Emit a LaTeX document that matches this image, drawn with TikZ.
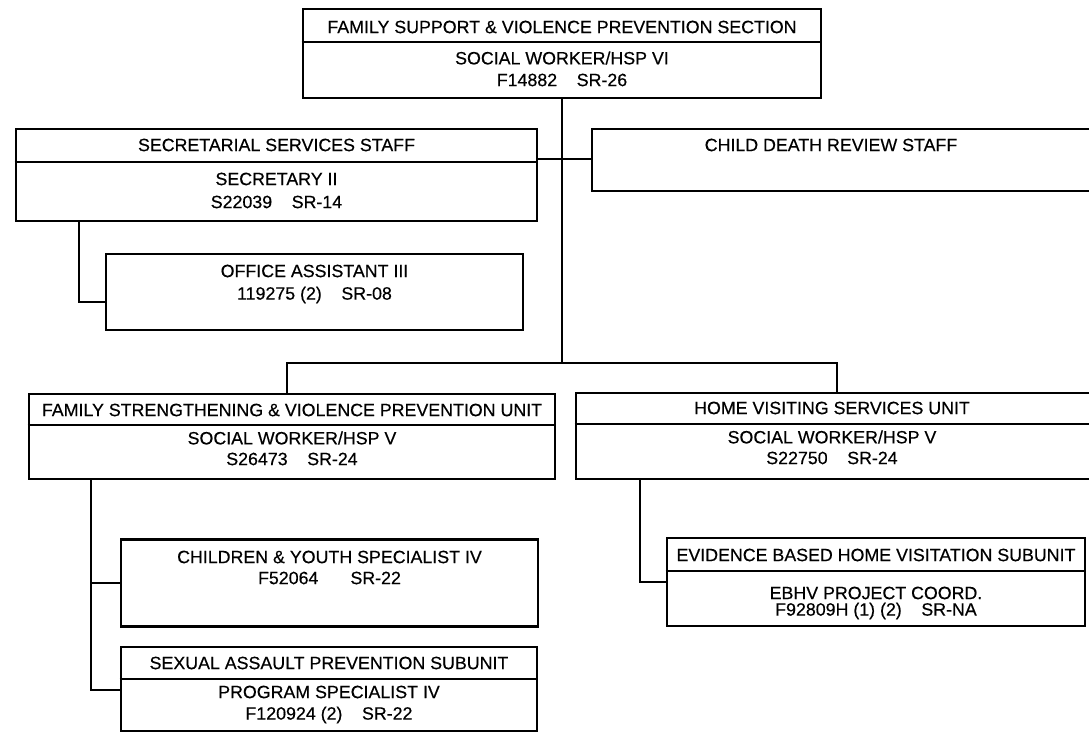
\documentclass[tikz,border=0pt]{standalone}
\usepackage{fontspec}
\setmainfont[FakeBold=0.4]{Liberation Sans}
\begin{document}
\begin{tikzpicture}[x=1pt,y=-1pt,
  box/.style={draw, line width=2.8pt, rectangle, inner sep=0pt},
  divider/.style={line width=1.7pt},
  conn/.style={line width=2.8pt},
  lbl/.style={inner sep=0pt, font=\fontsize{17.8}{21}\selectfont}]
\useasboundingbox (0,0) rectangle (1089,733);
\clip (0,0) rectangle (1089,733);
\fill[white] (0,0) rectangle (1089,733);
% boxes
\node[box, minimum width=518pt, minimum height=89pt] (top) at (562,53.5) {};
\node[box, minimum width=521pt, minimum height=92pt] (sec) at (276.5,175) {};
\node[box, minimum width=508pt, minimum height=62pt] (cdr) at (846,160) {};
\node[box, minimum width=417pt, minimum height=76pt] (office) at (314.5,292) {};
\node[box, minimum width=526pt, minimum height=85pt] (fsvp) at (292,436.5) {};
\node[box, minimum width=526pt, minimum height=86pt] (hvs) at (839,436) {};
\node[box, minimum width=417pt, minimum height=87pt] (child) at (329.5,583) {};
\node[box, minimum width=416pt, minimum height=84pt] (sexual) at (329,689) {};
\node[box, minimum width=418pt, minimum height=88pt] (ebhv) at (876,582) {};
% dividers
\draw[divider] (top.west |- 0,42) -- (top.east |- 0,42);
\draw[divider] (sec.west |- 0,162) -- (sec.east |- 0,162);
\draw[divider] (fsvp.west |- 0,425) -- (fsvp.east |- 0,425);
\draw[divider] (hvs.west |- 0,424) -- (hvs.east |- 0,424);
\draw[divider] (sexual.west |- 0,679) -- (sexual.east |- 0,679);
\draw[divider] (ebhv.west |- 0,571) -- (ebhv.east |- 0,571);
% texts
\node[lbl] (t1) at (562,27) {FAMILY SUPPORT \& VIOLENCE PREVENTION SECTION};
\node[lbl] (t2) at (562,58) {SOCIAL WORKER/HSP VI};
\node[lbl] (t3) at (562,80) {F14882\hspace{1.1em}SR-26};
\node[lbl] (s1) at (276.5,145) {SECRETARIAL SERVICES STAFF};
\node[lbl] (s2) at (276.5,179) {SECRETARY II};
\node[lbl] (s3) at (276.5,202) {S22039\hspace{1.1em}SR-14};
\node[lbl] (c1) at (831,145) {CHILD DEATH REVIEW STAFF};
\node[lbl] (o1) at (314.5,271) {OFFICE ASSISTANT III};
\node[lbl] (o2) at (314.5,295) {119275 (2)\hspace{1.1em}SR-08};
\node[lbl] (f1) at (292,410) {FAMILY STRENGTHENING \& VIOLENCE PREVENTION UNIT};
\node[lbl] (f2) at (292,438) {SOCIAL WORKER/HSP V};
\node[lbl] (f3) at (292,459) {S26473\hspace{1.1em}SR-24};
\node[lbl] (h1) at (832,408) {HOME VISITING SERVICES UNIT};
\node[lbl] (h2) at (832,437) {SOCIAL WORKER/HSP V};
\node[lbl] (h3) at (832,458) {S22750\hspace{1.1em}SR-24};
\node[lbl] (ch1) at (329.5,557) {CHILDREN \& YOUTH SPECIALIST IV};
\node[lbl] (ch2) at (329.5,578) {F52064\hspace{1.8em}SR-22};
\node[lbl] (sx1) at (329,663) {SEXUAL ASSAULT PREVENTION SUBUNIT};
\node[lbl] (sx2) at (329,692) {PROGRAM SPECIALIST IV};
\node[lbl] (sx3) at (329,715) {F120924 (2)\hspace{1.1em}SR-22};
\node[lbl] (e1) at (876,555) {EVIDENCE BASED HOME VISITATION SUBUNIT};
\node[lbl] (e2) at (876,593) {EBHV PROJECT COORD.};
\node[lbl] (e3) at (876,611) {F92809H (1) (2)\hspace{1.1em}SR-NA};
% connectors
\coordinate (busL) at (287,363);
\coordinate (busR) at (837,363);
\draw[conn] (top.south) -- (top.south |- busL);
\draw[conn] (fsvp.north -| busL) -- (busL) -- (busR) -- (hvs.north -| busR);
\draw[conn] (sec.east |- 0,159) -- (cdr.west |- 0,159);
\coordinate (so) at (79,302);
\draw[conn] (sec.south -| so) -- (so) -- (office.west |- so);
\coordinate (fc) at (91,690);
\draw[conn] (fsvp.south -| fc) -- (fc) -- (sexual.west |- fc);
\draw[conn] (child.west -| fc) -- (child.west);
\coordinate (he) at (640,582);
\draw[conn] (hvs.south -| he) -- (he) -- (ebhv.west);
\end{tikzpicture}
\end{document}
